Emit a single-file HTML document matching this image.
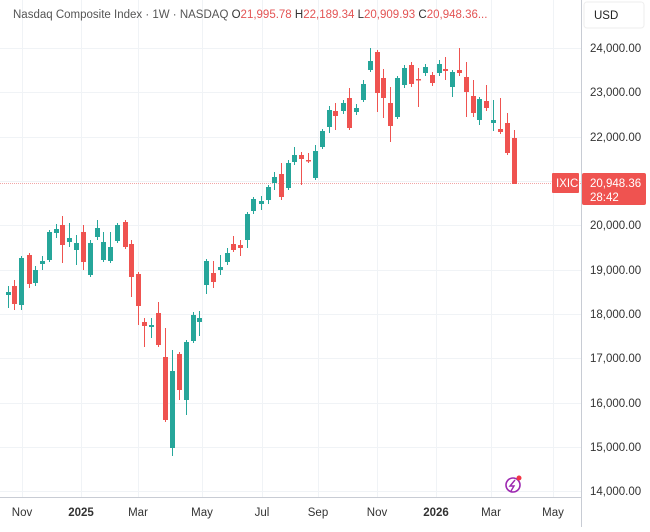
<!DOCTYPE html>
<html><head><meta charset="utf-8"><style>
body{margin:0;background:#fff;font-family:"Liberation Sans",sans-serif;}
svg text{font-family:"Liberation Sans",sans-serif;}
</style></head><body>
<svg id="s" width="650" height="527" xmlns="http://www.w3.org/2000/svg">
<rect width="650" height="527" fill="#fff"/>
<g stroke="#f0f3f6" stroke-width="1">
<line x1="0" x2="581" y1="48.5" y2="48.5"/><line x1="0" x2="581" y1="92.5" y2="92.5"/>
<line x1="0" x2="581" y1="137.5" y2="137.5"/><line x1="0" x2="581" y1="181.5" y2="181.5"/>
<line x1="0" x2="581" y1="225.5" y2="225.5"/><line x1="0" x2="581" y1="270.5" y2="270.5"/>
<line x1="0" x2="581" y1="314.5" y2="314.5"/><line x1="0" x2="581" y1="358.5" y2="358.5"/>
<line x1="0" x2="581" y1="403.5" y2="403.5"/><line x1="0" x2="581" y1="447.5" y2="447.5"/>
<line x1="0" x2="581" y1="491.5" y2="491.5"/>
<line x1="22.5" x2="22.5" y1="0" y2="497"/><line x1="81.5" x2="81.5" y1="0" y2="497"/>
<line x1="138.5" x2="138.5" y1="0" y2="497"/><line x1="202.5" x2="202.5" y1="0" y2="497"/>
<line x1="262.5" x2="262.5" y1="0" y2="497"/><line x1="318.5" x2="318.5" y1="0" y2="497"/>
<line x1="377.5" x2="377.5" y1="0" y2="497"/><line x1="436.5" x2="436.5" y1="0" y2="497"/>
<line x1="491.5" x2="491.5" y1="0" y2="497"/><line x1="553.5" x2="553.5" y1="0" y2="497"/>
</g>
<line x1="0" x2="581" y1="183.5" y2="183.5" stroke="#f2a5a5" stroke-width="1" stroke-dasharray="1,1"/>
<g id="c"></g>
<line x1="581.5" x2="581.5" y1="0" y2="527" stroke="#c8ccd4"/>
<line x1="0" x2="581" y1="497.5" y2="497.5" stroke="#c8ccd4"/>
<text x="13" y="18" font-size="11.5" fill="#555">Nasdaq Composite Index · 1W · NASDAQ <tspan fill="#333">O</tspan><tspan fill="#e35454">21,995.78</tspan> <tspan fill="#333">H</tspan><tspan fill="#e35454">22,189.34</tspan> <tspan fill="#333">L</tspan><tspan fill="#e35454">20,909.93</tspan> <tspan fill="#333">C</tspan><tspan fill="#e35454">20,948.36...</tspan></text>
<rect x="584" y="2" width="60" height="26" rx="3" fill="#fff" stroke="#eee"/>
<text x="594" y="19" font-size="11.5" fill="#222">USD</text>
<g font-size="11.5" fill="#333">
<text x="590" y="52">24,000.00</text><text x="590" y="96">23,000.00</text>
<text x="590" y="141">22,000.00</text><text x="590" y="229">20,000.00</text>
<text x="590" y="274">19,000.00</text><text x="590" y="318">18,000.00</text>
<text x="590" y="362">17,000.00</text><text x="590" y="407">16,000.00</text>
<text x="590" y="451">15,000.00</text><text x="590" y="495">14,000.00</text>
</g>
<rect x="552" y="173" width="27" height="20" fill="#ef5350" rx="1"/>
<text x="556" y="187" font-size="11.5" fill="#fff">IXIC</text>
<rect x="582" y="173" width="64" height="32" fill="#ef5350" rx="2"/>
<text x="590" y="187" font-size="11.5" fill="#fff">20,948.36</text>
<text x="590" y="201" font-size="11.5" fill="#fff">28:42</text>
<g font-size="11.5" fill="#333" text-anchor="middle">
<text x="22" y="516">Nov</text><text x="81" y="516" font-weight="bold">2025</text>
<text x="138" y="516">Mar</text><text x="202" y="516">May</text>
<text x="262" y="516">Jul</text><text x="318" y="516">Sep</text>
<text x="377" y="516">Nov</text><text x="436" y="516" font-weight="bold">2026</text>
<text x="491" y="516">Mar</text><text x="553" y="516">May</text>
</g>
<circle cx="513" cy="485" r="7" fill="none" stroke="#9c27b0" stroke-width="1.6"/>
<path d="M515 480 L510 486 L514 486 L511 491" stroke="#9c27b0" stroke-width="1.4" fill="none"/>
<circle cx="519" cy="478" r="2.5" fill="#f23645"/>
</svg>
<script>
var G='#26a69a',R='#ef5350';
var d=[[8,292,295,286,308,G],[14,286,304,280,310,R],[21,258,305,256,310,G],[29,255,284,253,288,R],[35,270,283,266,286,G],[42,261,264,256,270,G],[49,232,260,230,262,G],[56,229,233,224,238,G],[62,225,245,216,263,R],[69,238,242,223,247,G],[76,243,250,235,265,G],[83,232,262,225,270,R],[90,243,275,240,277,G],[97,228,237,220,240,G],[103,242,260,232,262,G],[110,247,261,232,263,G],[117,225,241,223,243,G],[125,222,247,220,249,R],[131,244,277,240,297,R],[138,274,306,272,325,R],[144,322,326,318,347,R],[151,325,327,318,338,G],[158,313,345,302,347,R],[165,357,420,328,422,R],[172,371,448,350,456,G],[179,354,390,352,400,R],[186,342,400,340,415,G],[193,315,341,312,343,G],[199,318,322,311,336,G],
[206,261,285,259,294,G],[213,273,282,261,288,R],[220,267,270,255,275,G],[227,253,262,248,265,G],[233,244,250,236,252,R],[240,245,248,240,256,R],[247,214,240,212,248,G],[253,199,211,197,214,G],[261,201,204,196,210,G],[268,187,200,185,204,G],[274,177,183,172,190,G],[281,174,197,163,200,R],[288,163,188,160,190,G],[294,155,162,147,165,G],[301,155,159,152,185,R],[308,160,161,153,163,R],[315,151,178,145,180,G],[322,131,147,129,149,G],[329,110,127,106,133,G],[335,111,116,103,130,R],[343,103,111,100,114,G],[349,98,128,88,130,R],[356,108,112,104,115,G],[363,84,100,80,102,G],[370,61,70,48,72,G],[377,52,93,50,112,R],[383,78,98,69,118,R],[390,103,126,87,142,R],[397,78,117,76,119,G],[404,68,85,65,88,G],[411,65,84,62,87,R],[418,79,80,68,107,R],[425,67,73,64,76,G],[432,75,83,72,86,R],[439,64,73,60,76,G],[445,69,71,57,80,R],[452,72,87,70,97,G],[459,70,73,48,76,R],[466,77,92,62,117,R],[473,96,113,80,117,R],[479,99,120,97,125,G],[486,101,108,85,111,R],[493,120,123,100,131,G],[500,129,132,98,134,R],[507,123,153,113,155,R],[514,138,184,130,184,R]];
var s='';d.forEach(function(c){s+='<line x1="'+(c[0]+.5)+'" x2="'+(c[0]+.5)+'" y1="'+c[3]+'" y2="'+c[4]+'" stroke="'+c[5]+'" stroke-width="1"/><rect x="'+(c[0]-2)+'" y="'+c[1]+'" width="5" height="'+Math.max(1.5,c[2]-c[1])+'" fill="'+c[5]+'"/>';});
document.getElementById('c').innerHTML=s;
</script>
</body></html>
